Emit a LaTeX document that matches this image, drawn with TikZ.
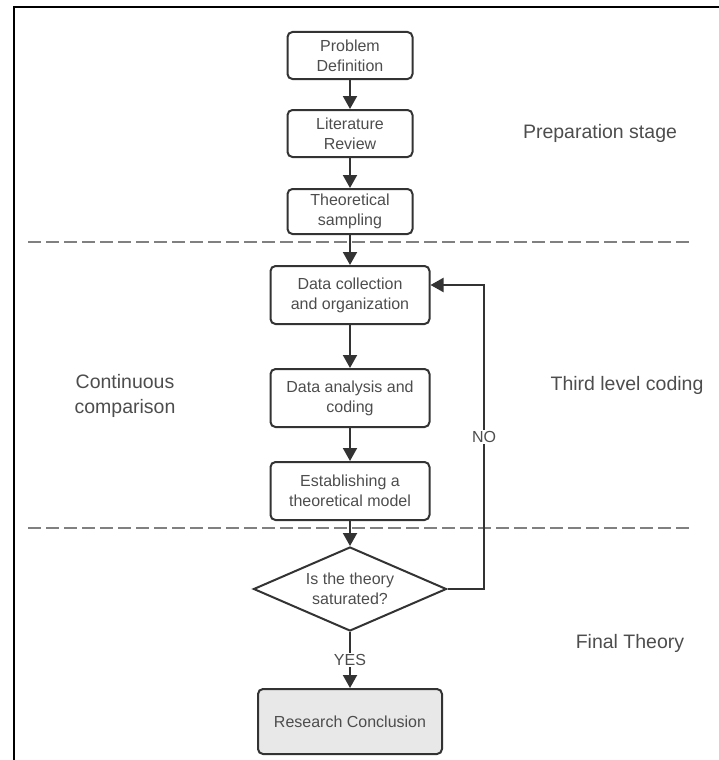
\documentclass[tikz,border=0pt]{standalone}
\usepackage{fontspec}
\setmainfont{Liberation Sans}
\usetikzlibrary{arrows.meta,positioning,shapes}
\definecolor{linegray}{HTML}{333333}
\definecolor{textgray}{HTML}{4D4D4D}
\definecolor{endfill}{HTML}{E8E8E8}

\begin{document}
\begin{tikzpicture}[
    x=1pt, y=-1pt,
    node distance=29pt,
    box/.style={rectangle, rounded corners=5pt, draw=linegray, line width=2pt, minimum width=125pt, minimum height=47pt, align=center, text=textgray, font=\fontsize{16}{20}\selectfont, inner sep=2pt},
    widebox/.style={box, minimum width=159pt, minimum height=58pt},
    decision/.style={diamond, draw=linegray, line width=2pt, aspect=2.3, minimum width=193pt, minimum height=84pt, inner sep=0pt, align=center, text=textgray, font=\fontsize{16}{20}\selectfont},
    arrow/.style={draw=linegray, line width=2pt, -{Triangle[width=14pt,length=13pt]}},
    stage/.style={align=center, text=textgray, font=\fontsize{19.5}{25}\selectfont},
    divider/.style={draw=gray, line width=1.5pt, dash pattern=on 13pt off 5pt},
    answer/.style={fill=white, inner sep=1pt, text=textgray, font=\fontsize{16}{20}\selectfont}
]
    \useasboundingbox (0,0) rectangle (719,760);
    \draw[line width=2pt] (13.5,760) -- (13.5,7) -- (719,7);

    % stage dividers
    \draw[divider] (28,242) -- (693,242);
    \draw[divider] (28,528) -- (693,528);

    \node[box] (prob) at (350,55.5) {Problem\\Definition};
    \node[box, below=29pt of prob] (lit) {Literature\\Review};
    \node[box, below=30pt of lit, minimum height=45pt] (samp) {Theoretical\\sampling};
    \node[widebox, below=30pt of samp] (collect) {Data collection\\and organization};
    \node[widebox, below=43pt of collect] (analysis) {Data analysis and\\coding};
    \node[widebox, below=33pt of analysis] (model) {Establishing a\\theoretical model};
    \node[decision, below=25pt of model] (sat) {Is the theory\\saturated?};
    \node[box, below=56pt of sat, minimum width=184pt, minimum height=65pt, fill=endfill] (concl) {Research Conclusion};

    \node[stage] (prep) at (600,133) {Preparation stage};
    \node[stage] (cont) at (125,396) {Continuous\\comparison};
    \node[stage] (third) at (627,385) {Third level coding};
    \node[stage] (final) at (630,643) {Final Theory};

    \draw[arrow] (prob) -- (lit);
    \draw[arrow] (lit) -- (samp);
    \draw[arrow] (samp) -- (collect);
    \draw[arrow] (collect) -- (analysis);
    \draw[arrow] (analysis) -- (model);
    \draw[arrow] (model) -- (sat);
    \draw[arrow] (sat) -- node[answer] {YES} (concl);

    % loop back when not saturated
    \coordinate (loop) at (484,285);
    \draw[arrow] (sat.east) -- (sat.east -| loop) -- node[answer] {NO} (loop) -- (loop -| collect.east);
\end{tikzpicture}
\end{document}
